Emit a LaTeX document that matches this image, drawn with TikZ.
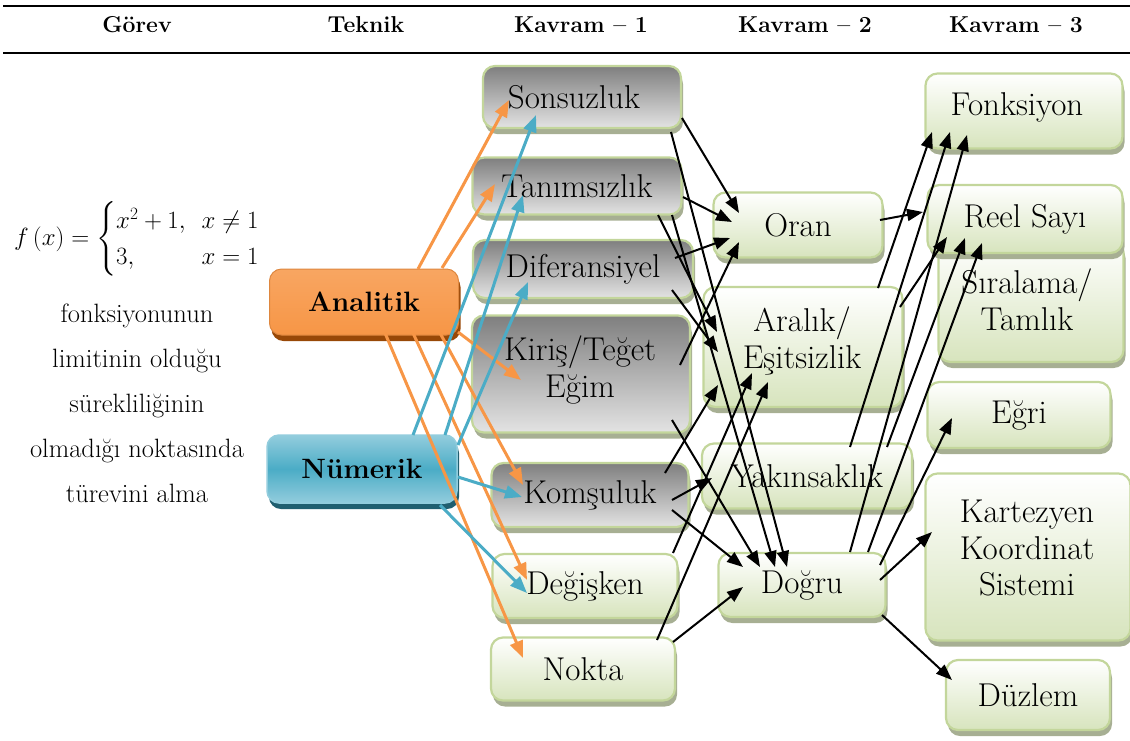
\documentclass[tikz,border=0pt]{standalone}
\usepackage{amsmath}
\usepackage{fontspec}
\setmainfont{Latin Modern Roman}
\usetikzlibrary{shadows,arrows.meta,calc}
\definecolor{gborder}{HTML}{C3D69B}
\definecolor{greenlow}{HTML}{D7E4BD}
\definecolor{graytop}{HTML}{7F7F7F}
\definecolor{graylow}{HTML}{E3E3E3}
\definecolor{shgreen}{HTML}{A7AF93}
\definecolor{orangec}{HTML}{F79646}
\definecolor{orangesh}{HTML}{984807}
\definecolor{bluec}{HTML}{4BACC6}
\definecolor{bluelight}{HTML}{93CDDD}
\definecolor{bluesh}{HTML}{215F70}
\newcommand\kfont{\fontsize{33}{36.5}\selectfont}
\begin{document}
\begin{tikzpicture}[x=1pt,y=-1pt,
  box/.style={draw=gborder, line width=2.2pt, rounded corners=12pt, inner sep=0pt, align=center, font=\kfont,
    drop shadow={shadow xshift=2pt,shadow yshift=-6pt,fill=shgreen,opacity=1}},
  gbox/.style={box, top color=white, bottom color=greenlow},
  dbox/.style={box, top color=graytop, bottom color=graylow},
  txt/.style={font=\kfont, align=center, inner sep=0pt},
  hdr/.style={font=\fontsize{23}{30}\selectfont\bfseries},
  blk/.style={line width=2pt, -{Triangle[length=16pt,width=12pt]}},
  org/.style={draw=orangec, line width=3pt, -{Triangle[length=17pt,width=13pt]}},
  blu/.style={draw=bluec, line width=3pt, -{Triangle[length=17pt,width=13pt]}}]
\useasboundingbox (0,0) rectangle (1130,740);
% header
\draw[line width=2.5pt] (3,6) coordinate (tl) -- (1130,6) coordinate (tr);
\draw[line width=2.5pt] (3,53) coordinate (bl) -- (1130,53) coordinate (br);
\node[hdr] (h1) at (137,25) {Görev};
\node[hdr] (h2) at (366,25) {Teknik};
\node[hdr] (h3) at (581,25) {Kavram – 1};
\node[hdr] (h4) at (805,25) {Kavram – 2};
\node[hdr] (h5) at (1016,25) {Kavram – 3};
% task
\node[font=\fontsize{23}{27}\selectfont] (form) at (137,239) {\renewcommand\arraystretch{1.35}$f\,(x) = \left\{\begin{array}{@{}l@{\hspace{16pt}}l@{}} x^{2} + 1, & x \neq 1\\ 3, & x = 1\end{array}\right.$};
\node[font=\fontsize{26.5}{45}\selectfont, align=center] (desc) at (137,403) {fonksiyonunun\\limitinin olduğu\\sürekliliğinin\\olmadığı noktasında\\türevini alma};
% technique
\node[rounded corners=12pt, draw=orangec!90!black, line width=1pt, top color=orangec!85!white, bottom color=orangec, minimum width=189pt, minimum height=66pt, font=\fontsize{28}{36}\selectfont\bfseries,
  drop shadow={shadow xshift=2pt,shadow yshift=-6pt,fill=orangesh,opacity=1}] (ana) at (364,302) {Analitik};
\node[rounded corners=12pt, draw=bluelight, line width=1.5pt, top color=bluelight, bottom color=bluelight, middle color=bluec, minimum width=190pt, minimum height=68pt, font=\fontsize{28}{36}\selectfont\bfseries,
  drop shadow={shadow xshift=2pt,shadow yshift=-6pt,fill=bluesh,opacity=1}] (num) at (362,469) {Nümerik};
% Kavram 1
\node[dbox, minimum width=198pt, minimum height=62pt] (son) at (582,97) {};
\node[txt] (sonT) at (574,97) {Sonsuzluk};
\node[dbox, minimum width=209pt, minimum height=57pt] (tan) at (577,186) {Tanımsızlık};
\node[dbox, minimum width=220pt, minimum height=58pt] (dif) at (583,269) {Diferansiyel};
\node[dbox, minimum width=218pt, minimum height=117pt] (kir) at (581,374) {};
\node[txt] (kirT) at (580,370) {Kiriş/Teğet\\Eğim};
\node[dbox, minimum width=197pt, minimum height=64pt] (kom) at (590,495) {Komşuluk};
\node[gbox, minimum width=185pt, minimum height=64pt] (deg) at (585,586) {Değişken};
\node[gbox, minimum width=184pt, minimum height=63pt] (nok) at (583,669) {Nokta};
% Kavram 2
\node[gbox, minimum width=169pt, minimum height=65pt] (oran) at (798,225) {Oran};
\node[gbox, minimum width=199pt, minimum height=120pt] (ara) at (803,347) {};
\node[txt] (araT) at (802,341) {Aralık/\\Eşitsizlik};
\node[gbox, minimum width=210pt, minimum height=65pt] (yak) at (807,476) {Yakınsaklık};
\node[gbox, minimum width=167pt, minimum height=64pt] (dog) at (802,585) {Doğru};
% Kavram 3
\node[gbox, minimum width=197pt, minimum height=75pt] (fon) at (1024,111) {};
\node[txt] (fonT) at (1017,107) {Fonksiyon};
\node[gbox, minimum width=185pt, minimum height=122pt] (sir) at (1031,301) {};
\node[txt] (sirT) at (1027,300) {Sıralama/\\Tamlık};
\node[gbox, minimum width=195pt, minimum height=68pt] (reel) at (1025,219) {Reel Sayı};
\node[gbox, minimum width=183pt, minimum height=66pt] (egr) at (1019,415) {Eğri};
\node[gbox, minimum width=205pt, minimum height=167pt] (kar) at (1028,557) {};
\node[txt] (karT) at (1027,548) {Kartezyen\\Koordinat\\Sistemi};
\node[gbox, minimum width=164pt, minimum height=70pt] (duz) at (1028,695) {Düzlem};
% orange arrows
\draw[org] ($(ana)+(54,-33)$) -- ($(son)+(-73,3)$);
\draw[org] ($(ana)+(78,-34)$) -- ($(tan)+(-82,-2)$);
\draw[org] ($(ana)+(94,30)$) -- ($(kir)+(-60,6)$);
\draw[org] ($(ana)+(76,31)$) -- ($(kom)+(-67,-10)$);
\draw[org] ($(ana)+(49,31)$) -- ($(deg)+(-58,-6)$);
\draw[org] ($(ana)+(21,31)$) -- ($(nok)+(-60,-11)$);
% blue arrows
\draw[blu] ($(num)+(51,-34)$) -- ($(son)+(-46,18)$);
\draw[blu] ($(num)+(83,-34)$) -- ($(tan)+(-54,9)$);
\draw[blu] ($(num)+(96,-24)$) -- ($(dif)+(-55,13)$);
\draw[blu] ($(num)+(96,8)$) -- ($(kom)+(-68,2)$);
\draw[blu] ($(num)+(78,36)$) -- ($(deg)+(-58,7)$);
% black arrows
\draw[blk] ($(son)+(100,21)$) -- ($(oran)+(-59,-12)$);
\draw[blk] ($(tan)+(106,11)$) -- ($(oran)+(-66,-3)$);
\draw[blk] ($(dif)+(92,-11)$) -- ($(oran)+(-68,13)$);
\draw[blk] ($(kir)+(99,-9)$) -- ($(oran)+(-59,17)$);
\draw[blk] ($(tan)+(81,29)$) -- ($(ara)+(-86,-15)$);
\draw[blk] ($(dif)+(89,21)$) -- ($(ara)+(-85,5)$);
\draw[blk] ($(son)+(89,35)$) -- ($(dog)+(-15,-18)$);
\draw[blk] ($(tan)+(95,29)$) -- ($(dog)+(-27,-18)$);
\draw[blk] ($(kir)+(91,46)$) -- ($(dog)+(-42,-18)$);
\draw[blk] ($(kom)+(82,15)$) -- ($(dog)+(-59,-18)$);
\draw[blk] ($(kom)+(75,-22)$) -- ($(ara)+(-85,38)$);
\draw[blk] ($(kom)+(82,5)$) -- ($(yak)+(-95,2)$);
\draw[blk] ($(deg)+(88,-33)$) -- ($(ara)+(-51,26)$);
\draw[blk] ($(nok)+(74,-29)$) -- ($(ara)+(-35,35)$);
\draw[blk] ($(nok)+(90,-27)$) -- ($(dog)+(-59,2)$);
\draw[blk] ($(oran)+(82,-5)$) -- ($(reel)+(-102,-7)$);
\draw[blk] ($(ara)+(75,-59)$) -- ($(fon)+(-92,21)$);
\draw[blk] ($(yak)+(43,-29)$) -- ($(fon)+(-74,21)$);
\draw[blk] ($(dog)+(48,-33)$) -- ($(fon)+(-57,24)$);
\draw[blk] ($(ara)+(97,-40)$) -- ($(reel)+(-78,18)$);
\draw[blk] ($(yak)+(80,-29)$) -- ($(reel)+(-60,19)$);
\draw[blk] ($(dog)+(66,-33)$) -- ($(reel)+(-43,24)$);
\draw[blk] ($(dog)+(78,-20)$) -- ($(egr)+(-67,3)$);
\draw[blk] ($(dog)+(78,-5)$) -- ($(kar)+(-96,-25)$);
\draw[blk] ($(dog)+(80,30)$) -- ($(duz)+(-76,-15)$);
\end{tikzpicture}
\end{document}
